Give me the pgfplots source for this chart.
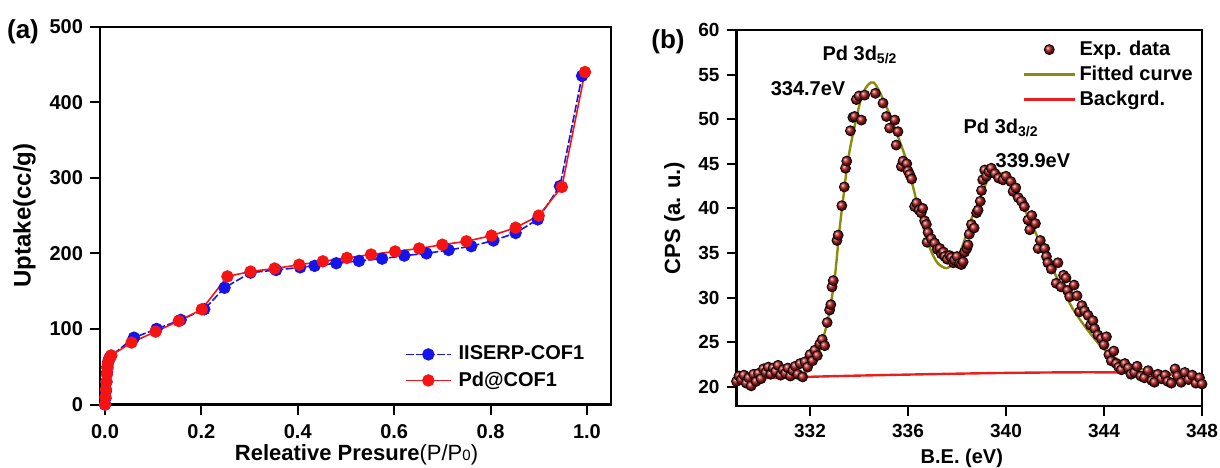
\documentclass[border=0pt]{standalone}
\usepackage{pgfplots}
\pgfplotsset{compat=1.18}
\usepackage{fontspec}
\setmainfont{Liberation Sans}
\setsansfont{Liberation Sans}
\definecolor{cblue}{RGB}{20,20,235}
\definecolor{cred}{RGB}{245,20,20}
\definecolor{cball}{RGB}{165,20,20}
\definecolor{colive}{RGB}{140,140,10}
\definecolor{cbg}{RGB}{235,30,30}
\pgfplotsset{
  common/.style={
    scale only axis,
    axis line style={line width=1.1pt},
    tick style={line width=1pt,black},
    major tick length=5pt,
    tick align=outside,
    xtick pos=lower, ytick pos=left,
    minor tick num=0,
    /pgf/number format/assume math mode=true,
    legend style={draw=none, fill=none, font=\fontsize{10}{12}\selectfont\bfseries, inner sep=1pt},
    legend cell align=left,
  }
}
\begin{document}
\begin{tikzpicture}
\useasboundingbox (0pt,0pt) rectangle (610pt,233.5pt);
\begin{axis}[common,
  at={(50pt,31.25pt)}, anchor=south west, width=255.5pt, height=188.9pt,
  xmin=-0.0104, xmax=1.05, ymin=0, ymax=500,
  xtick={0,0.2,0.4,0.6,0.8,1.0},
  xticklabels={0.0,0.2,0.4,0.6,0.8,1.0},
  ytick={0,100,200,300,400,500},
  ticklabel style={font=\fontsize{10}{12}\selectfont\bfseries},
  xticklabel style={yshift=-1.5pt},
  xlabel={Releative Presure\textmd{(P/P{\fontsize{7.5}{9}\selectfont 0})}},
  xlabel style={font=\fontsize{11}{13}\selectfont\bfseries, at={(axis description cs:0.502,-0.147)}, anchor=base},
  ylabel={Uptake(cc/g)},
  ylabel style={font=\fontsize{12}{14}\selectfont\bfseries},
  legend style={at={(axis cs:0.6176,86)}, anchor=north west, row sep=0.4pt, column sep=1.5pt},
  legend image code/.code={\draw[mark repeat=2,mark phase=2] plot coordinates {(0pt,0pt) (11.25pt,0pt) (22.5pt,0pt)};},
]
\addplot[cblue, line width=0.8pt, dash pattern=on 4pt off 1.2pt, mark=*, mark size=2.7pt, mark options={solid, fill=cblue, draw=cblue}] coordinates {
(0,0)(0.001,8)(0.002,18)(0.003,30)(0.004,42)(0.005,50)(0.007,57)(0.009,61)(0.012,64)
(0.06,88.5)(0.107,100)(0.157,112)(0.206,126)(0.248,154.5)(0.302,174.5)(0.355,178)(0.405,181.5)(0.435,183.5)(0.48,187)(0.527,190)(0.575,193)(0.621,197)(0.667,200)(0.713,204.5)(0.76,209.5)(0.806,217)(0.852,227)(0.898,245)(0.944,289)(0.99,435)};
\addlegendentry{IISERP-COF1}
\addplot[cred, line width=0.8pt, mark=*, mark size=2.7pt, mark options={fill=cred, draw=cred}] coordinates {
(0,0)(0.001,10)(0.002,20)(0.003,30)(0.004,40)(0.005,48)(0.006,54)(0.008,59)(0.01,62)(0.013,65)
(0.055,82)(0.105,96.5)(0.153,110.5)(0.201,126)(0.254,169.5)(0.302,176)(0.352,180)(0.403,185)(0.452,189.5)(0.502,194)(0.552,198.5)(0.602,202.5)(0.652,206.5)(0.7,211.5)(0.75,216)(0.802,223.5)(0.852,234)(0.9,250)(0.948,288)(0.996,440)};
\addlegendentry{Pd@COF1}
\end{axis}
\node[font=\fontsize{13}{15}\selectfont\bfseries] at (11.5pt,217.5pt) {(a)};
\node[font=\fontsize{13}{15}\selectfont\bfseries] at (334pt,212.5pt) {(b)};
\begin{axis}[common,
  at={(368.25pt,30.5pt)}, anchor=south west, width=232.75pt, height=188pt,
  xmin=329, xmax=348, ymin=17.84, ymax=60,
  xtick={332,336,340,344,348},
  ytick={20,25,30,35,40,45,50,55,60},
  ticklabel style={font=\fontsize{9.5}{11}\selectfont\bfseries},
  xticklabel style={yshift=-0.5pt},
  xlabel={B.E. (eV)},
  xlabel style={font=\fontsize{10}{12}\selectfont\bfseries, at={(axis description cs:0.484,-0.1524)}, anchor=base},
  ylabel={CPS (a. u.)},
  ylabel style={font=\fontsize{11}{13}\selectfont\bfseries},
  legend style={at={(axis cs:340.6,59.5)}, anchor=north west, row sep=-0.25pt, column sep=0pt},
  legend image code/.code={\draw[mark repeat=2,mark phase=2] plot coordinates {(0pt,0pt) (12.5pt,0pt) (25pt,0pt)};},
]
\addplot[only marks, mark=ball, mark size=2.5pt, mark options={ball color=cball}] coordinates {
(329.0,20.6)(329.1,21.2)(329.2,20.8)(329.3,21.3)(329.4,20.4)(329.5,21.0)(329.6,20.1)(329.7,21.4)(329.8,20.6)(329.9,21.5)
(330.0,20.9)(330.1,22.0)(330.2,21.6)(330.3,22.2)(330.4,21.4)(330.5,22.1)(330.6,21.7)(330.7,22.4)(330.8,21.3)(330.9,21.9)
(331.0,21.5)(331.1,22.1)(331.2,21.2)(331.3,21.8)(331.4,22.3)(331.5,21.4)(331.6,22.6)(331.7,21.1)(331.8,22.8)(331.9,22.2)
(332.0,23.6)(332.1,22.9)(332.2,24.1)(332.3,23.5)(332.4,24.8)(332.5,25.3)(332.6,24.6)(332.7,27.2)(332.8,28.6)(332.85,29.2)
(332.9,31.2)(332.95,31.9)(333.1,36.4)(333.15,37.0)(333.3,40.3)(333.4,42.4)(333.45,44.5)(333.5,45.3)(333.65,48.7)(333.75,50.2)
(333.82,50.3)(333.89,52.2)(334.0,52.6)(334.1,49.9)(334.23,52.7)(334.67,52.9)(334.98,51.8)(335.12,50.3)(335.25,49.0)(335.46,49.9)
(335.52,47.1)(335.59,48.6)(335.73,44.7)(335.8,45.3)(335.95,45.0)(336.0,44.2)(336.07,43.8)(336.15,43.3)(336.27,40.2)(336.35,40.6)
(336.45,39.8)(336.54,39.5)(336.6,40.0)(336.68,38.6)(336.75,38.2)(336.82,37.3)(336.78,36.2)(336.95,36.6)(337.09,36.1)(337.2,35.4)
(337.3,35.5)(337.36,34.9)(337.45,35.1)(337.5,34.6)(337.6,34.3)(337.7,34.7)(337.77,34.5)(337.85,33.9)(337.9,34.2)(338.0,34.6)
(338.1,33.8)(338.18,33.7)(338.25,34.0)(338.31,35.1)(338.4,35.5)(338.45,35.9)(338.5,37.1)(338.59,38.2)(338.7,37.8)(338.8,39.5)
(338.86,39.8)(338.95,40.8)(339.0,42.0)(339.05,43.2)(339.13,44.3)(339.2,43.6)(339.3,44.1)(339.4,44.5)(339.55,43.9)(339.7,43.4)
(339.88,43.2)(340.0,43.6)(340.2,43.0)(340.29,41.9)(340.4,42.3)(340.5,41.2)(340.63,40.8)(340.75,40.2)(340.9,38.7)(340.97,37.6)
(341.05,39.2)(341.2,38.3)(341.31,35.5)(341.4,36.4)(341.58,35.5)(341.65,34.6)(341.71,33.9)(341.85,33.2)(342.05,31.6)(342.12,33.9)
(342.25,31.2)(342.35,32.5)(342.45,32.2)(342.51,30.8)(342.6,30.1)(342.78,31.4)(342.9,30.2)(343.0,28.4)(343.1,29.1)(343.21,28.5)
(343.35,28.0)(343.45,26.9)(343.55,27.4)(343.62,26.5)(343.75,25.8)(343.89,25.4)(344.0,24.7)(344.1,25.6)(344.2,23.6)(344.3,22.9)
(344.4,24.0)(344.5,22.6)(344.6,22.2)(344.71,21.9)(344.85,22.6)(345.0,22.1)(345.1,21.4)(345.25,21.6)(345.35,22.3)(345.5,21.2)
(345.65,21.0)(345.8,21.8)(345.95,20.7)(346.06,20.5)(346.2,21.4)(346.35,20.9)(346.5,21.3)(346.6,20.6)(346.75,20.4)(346.9,22.0)
(347.0,21.2)(347.15,20.5)(347.3,21.6)(347.45,20.8)(347.6,21.3)(347.75,20.4)(347.9,21.0)(348.0,20.3)};
\addlegendentry{Exp. data}
\addplot[colive, line width=1.2pt, smooth, tension=0.5] coordinates {
(331.6,21.2)(331.9,21.9)(332.2,22.9)(332.4,24.2)(332.73,27.5)(333.0,32.0)(333.2,37.5)(333.35,41.0)(333.55,45.4)(333.82,49.2)(334.16,52.9)(334.6,54.1)
(335.18,51.0)(335.59,48.05)(335.93,45.4)(336.27,41.7)(336.61,38.0)(336.9,35.5)(337.2,33.9)(337.57,33.3)(337.9,34.0)(338.2,35.6)(338.57,38.7)(338.86,40.6)(339.27,43.2)(339.74,43.95)
(340.1,43.6)(340.49,41.3)(341.03,38.35)(341.58,35.0)(342.12,32.0)(342.67,29.0)(343.21,26.8)(343.89,24.5)(344.57,23.05)(345.39,22.1)(346.48,21.55)(347.2,21.4)};
\addlegendentry{Fitted curve}
\addplot[cbg, line width=1.2pt, smooth] coordinates {(329,20.9)(334,21.25)(340,21.55)(344.5,21.6)(348,21.2)};
\addlegendentry{Backgrd.}
\node[font=\fontsize{10}{12}\selectfont\bfseries] at (axis cs:334.04,57.2) {Pd 3d\textsubscript{5/2}};
\node[font=\fontsize{10}{12}\selectfont\bfseries] at (axis cs:331.92,53.4) {334.7eV};
\node[font=\fontsize{10}{12}\selectfont\bfseries] at (axis cs:339.8,49.0) {Pd 3d\textsubscript{3/2}};
\node[font=\fontsize{10}{12}\selectfont\bfseries] at (axis cs:341.1,45.3) {339.9eV};
\end{axis}
\end{tikzpicture}
\end{document}
